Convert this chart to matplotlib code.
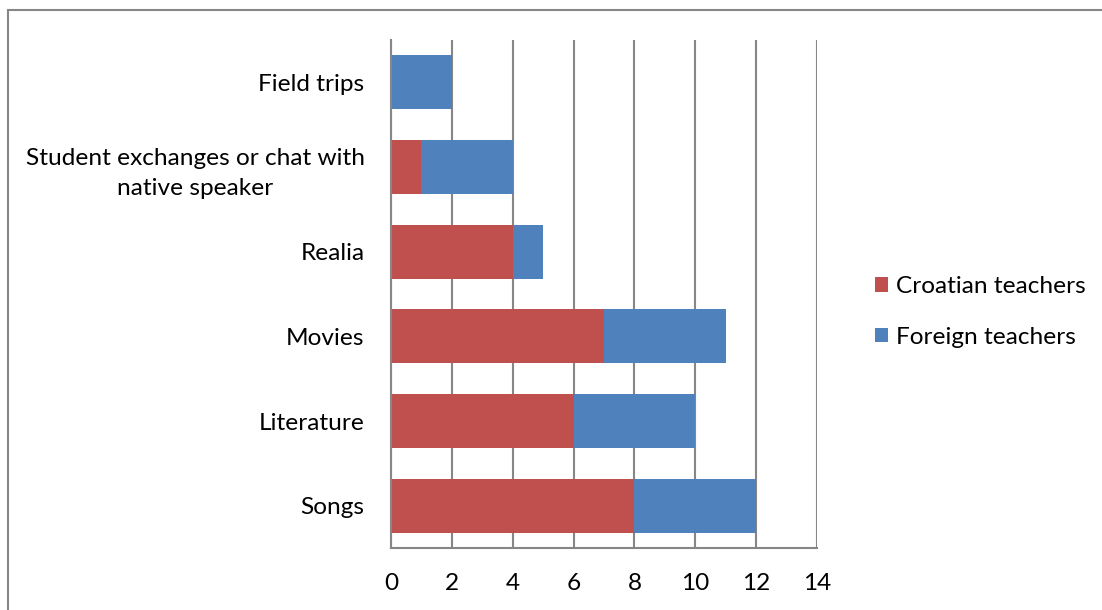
import matplotlib
matplotlib.use("Agg")
import matplotlib.pyplot as plt
from matplotlib.patches import Rectangle

categories = ["Songs", "Literature", "Movies", "Realia",
              "Student exchanges or chat with\nnative speaker", "Field trips"]
croatian = [8, 6, 7, 4, 1, 0]
foreign = [4, 4, 4, 1, 3, 2]
xticks = [0, 2, 4, 6, 8, 10, 12, 14]

RED = "#C0504D"
BLUE = "#4F81BD"
GRID = "#868686"
FS = 17.6

plt.rcParams['font.family'] = ['Lato', 'DejaVu Sans']

fig = plt.figure(figsize=(11.02, 6.10), dpi=100)
ax = fig.add_axes([391/1102, 1-548/610, 426/1102, 508/610])

y = list(range(len(categories)))
ax.barh(y, croatian, height=0.64, color=RED, label="Croatian teachers", zorder=3)
ax.barh(y, foreign, left=croatian, height=0.64, color=BLUE, label="Foreign teachers", zorder=3)

ax.set_xlim(0, 14)
ax.set_ylim(-0.5, 5.5)
ax.set_xticks(xticks)
ax.set_xticklabels([str(t) for t in xticks], fontsize=FS)
ax.set_yticks(y)
ax.set_yticklabels(categories, fontsize=FS, ha="right")
ax.tick_params(axis="y", length=0, pad=19)
ax.tick_params(axis="x", length=0, pad=18)
for lab in ax.get_yticklabels():
    lab.set_multialignment("center")
    lab.set_linespacing(1.55)

ax.grid(axis="x", color=GRID, linewidth=1.5, zorder=1)
for s in ["top", "right"]:
    ax.spines[s].set_visible(False)
for s in ["left", "bottom"]:
    ax.spines[s].set_color(GRID)
    ax.spines[s].set_linewidth(1.5)
    ax.spines[s].set_zorder(4)

leg = fig.legend(loc="center left", bbox_to_anchor=(875/1102, 1-312/610),
                 frameon=False, fontsize=FS, handlelength=0.55, handleheight=0.55,
                 handletextpad=0.3, labelspacing=1.2, borderaxespad=0, borderpad=0)

fig.patches.append(Rectangle((8/1102, -0.1), 1.2, 1-10/610+0.1, transform=fig.transFigure,
                             fill=False, edgecolor=GRID, linewidth=1.5))

fig.savefig("out.png", dpi=100)
